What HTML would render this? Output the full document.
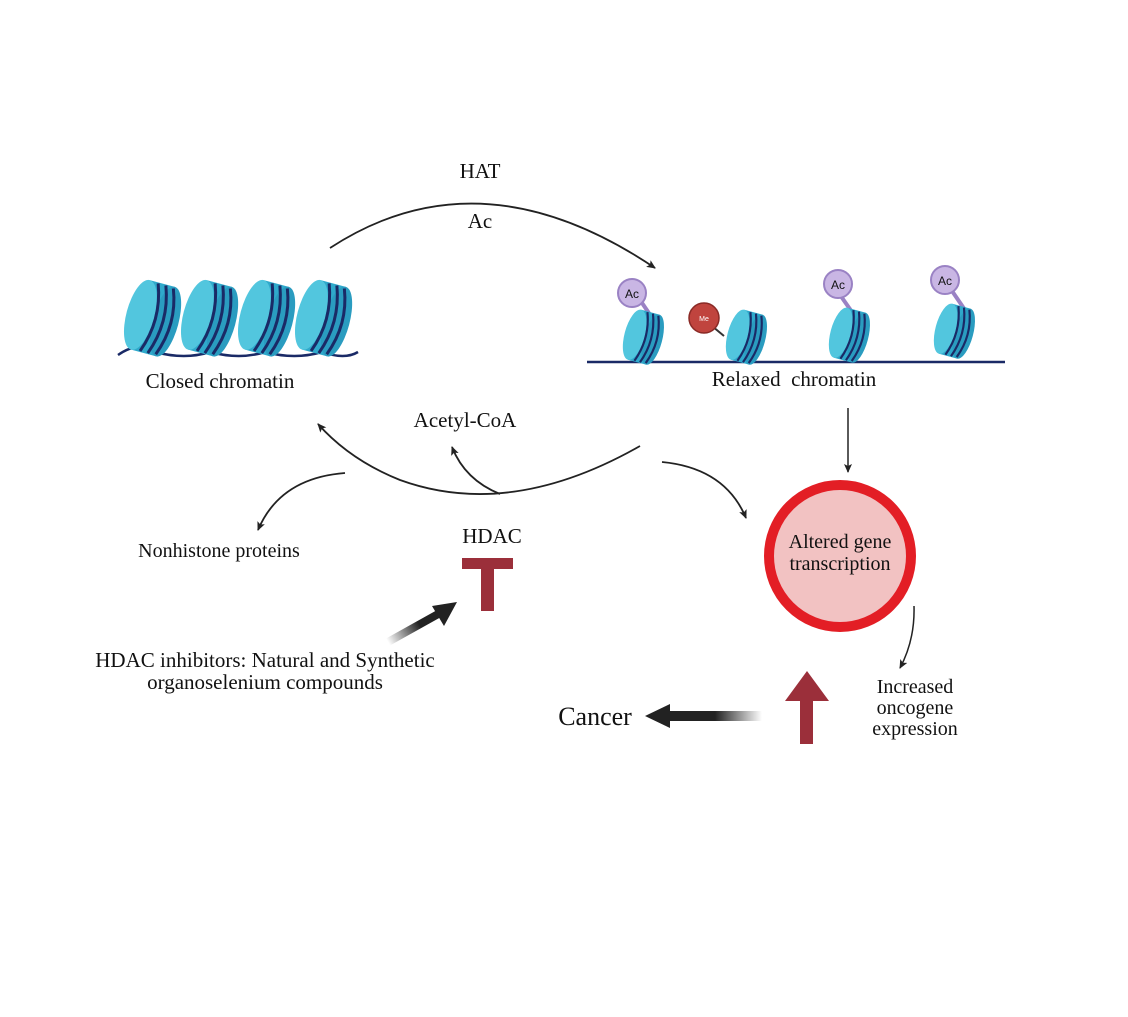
<!DOCTYPE html>
<html><head><meta charset="utf-8"><style>
html,body{margin:0;padding:0;background:#fff;}
svg text{font-family:"Liberation Serif",serif;fill:#111;}
</style></head><body>
<svg width="1128" height="1012" viewBox="0 0 1128 1012" xmlns="http://www.w3.org/2000/svg">
<defs>
<marker id="ah" markerWidth="10" markerHeight="10" refX="8" refY="5" orient="auto" markerUnits="userSpaceOnUse"><path d="M0,1 L9,5 L0,9 L2,5 Z" fill="#222"/></marker>
<linearGradient id="g2" gradientUnits="userSpaceOnUse" x1="762" y1="0" x2="668" y2="0"><stop offset="0" stop-color="#222" stop-opacity="0"/><stop offset="0.5" stop-color="#222"/></linearGradient>
<linearGradient id="g3" gradientUnits="userSpaceOnUse" x1="388" y1="642" x2="440" y2="612"><stop offset="0" stop-color="#222" stop-opacity="0"/><stop offset="0.6" stop-color="#222"/></linearGradient>
<g id="nuc">
<g transform="rotate(15)">
<rect x="-12" y="-36" width="26" height="72" fill="#2fa9cb"/>
<ellipse cx="14" cy="0" rx="13" ry="36" fill="#2a9cc0"/>
<ellipse cx="-12" cy="0" rx="14" ry="36" fill="#52c6de"/>
<path d="M-3,-35 Q10,0 -3,35" stroke="#1a2a66" stroke-width="3" fill="none"/>
<path d="M5,-35 Q18,0 5,35" stroke="#1a2a66" stroke-width="3" fill="none"/>
<path d="M13,-34 Q26,0 13,34" stroke="#1a2a66" stroke-width="3" fill="none"/>
</g>
</g>
</defs>

<!-- closed chromatin -->
<path d="M118,355 Q140,340 155,352 Q185,360 210,352 Q240,360 265,352 Q295,360 322,352 Q345,360 358,352" stroke="#1a2a66" stroke-width="2.5" fill="none"/>
<use href="#nuc" transform="translate(152,318)"/>
<use href="#nuc" transform="translate(209,318)"/>
<use href="#nuc" transform="translate(266,318)"/>
<use href="#nuc" transform="translate(323,318)"/>

<!-- relaxed chromatin -->
<path d="M587,362 L1005,362" stroke="#1a2a66" stroke-width="2.5" fill="none"/>
<line x1="640" y1="300" x2="655" y2="322" stroke="#9a82c4" stroke-width="4"/>
<line x1="838" y1="292" x2="852" y2="312" stroke="#9a82c4" stroke-width="4"/>
<line x1="950" y1="288" x2="965" y2="310" stroke="#9a82c4" stroke-width="4"/>
<use href="#nuc" transform="translate(643,337) scale(0.72)"/>
<use href="#nuc" transform="translate(746,337) scale(0.72)"/>
<use href="#nuc" transform="translate(849,335) scale(0.72)"/>
<use href="#nuc" transform="translate(954,331) scale(0.72)"/>
<line x1="712" y1="326" x2="724" y2="336" stroke="#333" stroke-width="2"/>
<circle cx="632" cy="293" r="14" fill="#c9b6e4" stroke="#9a82c4" stroke-width="2"/>
<text x="632" y="298" font-size="12" text-anchor="middle" style="font-family:'Liberation Sans',sans-serif">Ac</text>
<circle cx="838" cy="284" r="14" fill="#c9b6e4" stroke="#9a82c4" stroke-width="2"/>
<text x="838" y="289" font-size="12" text-anchor="middle" style="font-family:'Liberation Sans',sans-serif">Ac</text>
<circle cx="945" cy="280" r="14" fill="#c9b6e4" stroke="#9a82c4" stroke-width="2"/>
<text x="945" y="285" font-size="12" text-anchor="middle" style="font-family:'Liberation Sans',sans-serif">Ac</text>
<circle cx="704" cy="318" r="15" fill="#c0443e" stroke="#8a2a26" stroke-width="1.5"/>
<text x="704" y="321" font-size="7" text-anchor="middle" style="fill:#fff;font-family:'Liberation Sans',sans-serif">Me</text>

<!-- labels -->
<text x="480" y="178" font-size="21" text-anchor="middle">HAT</text>
<text x="480" y="228" font-size="21" text-anchor="middle">Ac</text>
<text x="220" y="388" font-size="21" text-anchor="middle">Closed chromatin</text>
<text x="794" y="386" font-size="21" text-anchor="middle" xml:space="preserve">Relaxed  chromatin</text>
<text x="465" y="427" font-size="21" text-anchor="middle">Acetyl-CoA</text>
<text x="219" y="557" font-size="20" text-anchor="middle">Nonhistone proteins</text>
<text x="492" y="543" font-size="21" text-anchor="middle">HDAC</text>
<text x="265" y="667" font-size="21" text-anchor="middle">HDAC inhibitors: Natural and Synthetic</text>
<text x="265" y="689" font-size="21" text-anchor="middle">organoselenium compounds</text>
<text x="595" y="725" font-size="26" text-anchor="middle">Cancer</text>
<text x="915" y="693" font-size="20" text-anchor="middle">Increased</text>
<text x="915" y="714" font-size="20" text-anchor="middle">oncogene</text>
<text x="915" y="735" font-size="20" text-anchor="middle">expression</text>

<!-- connectors -->
<path d="M330,248 Q480,150 655,268" stroke="#222" stroke-width="1.8" fill="none" marker-end="url(#ah)"/>
<path d="M640,446 Q510,520 400,480 Q350,460 318,424" stroke="#222" stroke-width="1.8" fill="none" marker-end="url(#ah)"/>
<path d="M500,494 Q465,480 452,447" stroke="#222" stroke-width="1.8" fill="none" marker-end="url(#ah)"/>
<path d="M345,473 Q280,478 258,530" stroke="#222" stroke-width="1.8" fill="none" marker-end="url(#ah)"/>
<path d="M662,462 Q725,468 746,518" stroke="#222" stroke-width="1.8" fill="none" marker-end="url(#ah)"/>
<line x1="848" y1="408" x2="848" y2="472" stroke="#222" stroke-width="1.5" marker-end="url(#ah)"/>
<path d="M914,606 Q915,640 900,668" stroke="#222" stroke-width="1.5" fill="none" marker-end="url(#ah)"/>

<!-- circle -->
<circle cx="840" cy="556" r="71" fill="#f2c2c2" stroke="#e31e25" stroke-width="10"/>
<text x="840" y="548" font-size="20" text-anchor="middle">Altered gene</text>
<text x="840" y="570" font-size="20" text-anchor="middle">transcription</text>

<!-- HDAC T -->
<rect x="462" y="558" width="51" height="11" fill="#9b2f3a"/>
<rect x="481" y="569" width="13" height="42" fill="#9b2f3a"/>

<!-- inhibitor arrow -->
<line x1="388" y1="642" x2="440" y2="613" stroke="url(#g3)" stroke-width="8"/>
<path d="M457,602 L444,626 L432,606 Z" fill="#222"/>
<!-- cancer arrow -->
<rect x="668" y="711" width="94" height="10" fill="url(#g2)"/>
<path d="M645,716 L670,704 L670,728 Z" fill="#222"/>
<!-- up arrow -->
<rect x="800" y="700" width="13" height="44" fill="#9b2f3a"/>
<path d="M785,701 L807,671 L829,701 Z" fill="#9b2f3a"/>
</svg>
</body></html>
